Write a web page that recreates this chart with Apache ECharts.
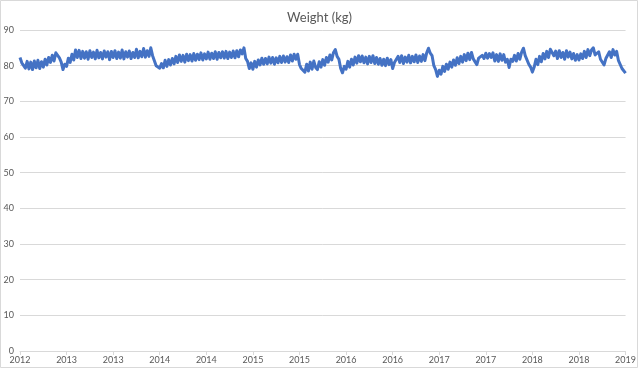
<!DOCTYPE html>
<html>
<head>
<meta charset="utf-8">
<script src="https://cdn.jsdelivr.net/npm/echarts@6/dist/echarts.min.js"></script>
<style>
html,body{margin:0;padding:0;background:#fff;}
#c{width:639px;height:369px;}
</style>
</head>
<body>
<div id="c"></div>
<script>
// Weekly weight readings (kg)
const weights = [
82.3, 80.8, 81.2, 79.3,
81.2, 79.1, 81.0, 78.9, 81.3, 79.4, 81.5, 79.2, 81.1, 79.6, 81.8,
80.2, 82.3, 80.9, 82.9, 81.3, 83.6,
84.0, 82.2,
81.0, 78.9, 80.4,
79.8, 82.1, 80.9, 83.2, 81.6,
84.4, 82.3, 84.3,
82.0, 84.0, 82.1, 83.9, 81.8, 84.2, 82.3, 83.8, 81.9, 84.3, 82.2, 83.7, 81.9, 84.1, 82.4, 83.9, 81.7, 84.0, 82.3, 84.2,
82.0, 83.8, 82.1, 84.4, 81.9, 83.9, 82.4, 84.1, 82.0, 83.7, 82.3, 84.6, 82.2, 84.0, 82.5, 84.8, 82.4, 84.2, 82.6,
85.0, 82.8, 82.3,
80.0, 79.9, 79.3, 80.6,
79.4, 81.5, 79.8, 81.7, 80.2, 82.0, 80.5,
82.6, 80.9, 83.0, 81.2, 82.9, 81.0, 83.2, 81.4, 83.1, 81.3, 83.4, 81.5, 83.2, 81.7, 83.6, 81.6, 83.3, 81.9,
83.8, 81.8, 83.5, 82.0, 83.9, 81.8, 83.7, 82.2, 83.9, 82.1, 84.0, 82.0, 83.8, 82.3, 84.1, 82.2, 84.2, 82.5,
84.4, 83.3, 85.0,
82.0, 81.2, 79.2, 80.8,
79.0, 81.2, 79.6, 81.6,
80.2, 82.1, 80.4, 82.0, 80.5, 82.4, 80.7, 82.3, 80.4, 82.2, 80.8, 82.6, 80.9, 82.7, 81.0, 82.5, 80.9, 83.0, 81.3, 83.2,
81.8, 83.2,
80.3, 79.2, 79.5, 78.2, 80.4,
78.5, 81.0, 79.0, 81.3, 79.5, 78.9, 81.1, 79.6,
81.7, 80.1, 82.3, 81.0, 83.0, 81.6, 83.7, 84.5,
82.6, 81.8,
79.2, 78.0, 79.8,
79.0, 81.2, 79.6, 81.8, 80.2, 82.4, 80.7, 82.8, 81.1,
82.7, 80.8, 82.4, 80.5, 82.6, 80.9, 82.8, 80.6, 82.3, 80.4,
82.0, 80.1, 81.8, 80.0, 82.1, 80.3, 81.7, 79.2, 80.9,
80.7, 82.6, 80.9, 82.8, 80.6, 82.4, 81.0, 82.9, 80.8, 82.6, 81.1, 83.0, 80.9, 82.7, 81.2, 83.1, 81.4, 83.6, 84.9,
83.5, 82.8,
80.0, 78.9, 77.0, 78.7, 77.6,
79.8, 78.4, 80.4, 79.0, 81.0, 79.6, 81.6, 80.1, 82.2, 80.6, 82.6, 81.0, 83.1, 81.4, 83.5,
81.7, 83.7, 81.9, 82.3, 80.3, 82.1, 81.6, 82.9, 82.0, 83.5, 82.1, 83.4,
82.3, 83.6, 81.3, 83.1, 81.2, 83.3, 81.5, 83.1, 81.0, 81.8, 79.5, 81.8, 81.2,
82.9, 81.3, 83.4, 81.8, 83.8, 84.9, 82.8, 82.6,
80.4, 79.6, 78.2,
79.6, 81.8, 80.3, 82.6, 81.1, 83.4, 81.9, 84.0, 82.3, 84.6, 84.9,
82.8, 84.1, 82.0, 84.2, 82.3, 83.7, 81.8, 84.2, 82.4, 83.8, 81.9, 83.4, 81.5, 83.1, 81.6, 83.3, 82.0, 84.0, 82.3, 84.5, 82.8, 84.4, 85.0,
83.0, 83.4, 83.9, 81.8, 81.9, 80.2,
82.0, 82.1, 83.9, 82.3, 84.5, 83.0,
84.0, 81.5, 81.6, 79.2, 79.3, 77.9
];
const startDate = '2012-09-03';
const stepDays = 7;
const labelEvery = 26;
const yTicks = [0, 10, 20, 30, 40, 50, 60, 70, 80, 90];
const titleText = 'Weight (kg)';

// build weekly date categories
const dates = [];
{
  const d0 = new Date(startDate + 'T00:00:00Z');
  for (let i = 0; i < weights.length; i++) {
    const d = new Date(d0.getTime() + i * stepDays * 86400000);
    dates.push(d.toISOString().slice(0, 10));
  }
}

const chart = echarts.init(document.getElementById('c'), null, {renderer: 'canvas'});
const font = 'Lato, "Liberation Sans", sans-serif';
chart.setOption({
  animation: false,
  backgroundColor: '#ffffff',
  title: {
    text: titleText,
    left: 'center',
    top: 6,
    textStyle: {fontFamily: font, fontSize: 13, fontWeight: 'normal', color: '#595959'}
  },
  grid: {left: 20, right: 13, top: 30, bottom: 18, containLabel: false},
  xAxis: {
    type: 'category',
    data: dates,
    boundaryGap: false,
    axisLine: {show: true, lineStyle: {color: '#d9d9d9', width: 1}},
    axisTick: {show: true, length: 4, lineStyle: {color: '#d9d9d9'},
      interval: (i) => i % labelEvery === 0},
    axisLabel: {
      interval: (i) => i % labelEvery === 0,
      formatter: (v) => v.slice(0, 4),
      fontFamily: font, fontSize: 9, color: '#595959', margin: 5
    },
    splitLine: {show: false}
  },
  yAxis: {
    type: 'value',
    min: yTicks[0],
    max: yTicks[yTicks.length - 1],
    interval: 10,
    axisLine: {show: false},
    axisTick: {show: false},
    axisLabel: {fontFamily: font, fontSize: 9, color: '#595959', margin: 6},
    splitLine: {lineStyle: {color: '#d9d9d9', width: 1}}
  },
  graphic: [{
    type: 'rect',
    shape: {x: 0.5, y: 0.5, width: 637, height: 367},
    style: {fill: 'none', stroke: '#d9d9d9', lineWidth: 1},
    silent: true
  }],
  series: [{
    type: 'line',
    data: weights,
    showSymbol: false,
    symbol: 'none',
    sampling: null,
    lineStyle: {color: '#4472c4', width: 3, join: 'round'},
    itemStyle: {color: '#4472c4'}
  }]
});
</script>
</body>
</html>
